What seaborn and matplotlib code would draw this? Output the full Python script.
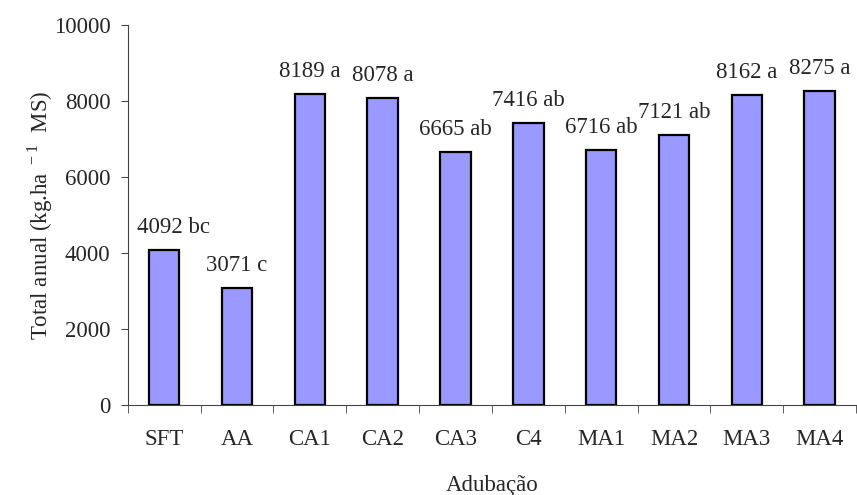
import numpy as np
import pandas as pd
import matplotlib
matplotlib.use('Agg')
import matplotlib.pyplot as plt
import seaborn as sns

categorias = ['SFT', 'AA', 'CA1', 'CA2', 'CA3', 'C4', 'MA1', 'MA2', 'MA3', 'MA4']
total_anual = [4092, 3071, 8189, 8078, 6665, 7416, 6716, 7121, 8162, 8275]
letras = ['bc', 'c', 'a', 'a', 'ab', 'ab', 'ab', 'ab', 'a', 'a']

df = pd.DataFrame({'Adubacao': categorias, 'Total': total_anual})

sns.set_style('ticks')
plt.rcParams['font.family'] = ['Liberation Serif', 'DejaVu Serif']
plt.rcParams['mathtext.fontset'] = 'custom'
plt.rcParams['mathtext.rm'] = 'Liberation Serif'

fs = 16.5
fig = plt.figure(figsize=(8.57, 4.95), dpi=100)
ax = fig.add_axes([0.149, 0.182, 0.85, 0.767])

sns.barplot(data=df, x='Adubacao', y='Total', color='#9999FF', saturation=1,
            edgecolor='black', linewidth=1.6, width=0.42, ax=ax)

# rótulos de valor + letras (o primeiro está deslocado à direita no original)
for i, (v, l) in enumerate(zip(total_anual, letras)):
    dx = 6.5 if i == 0 else 0
    ax.annotate(f'{v} {l}', xy=(i, v), xytext=(dx, 12.2), textcoords='offset points',
                ha='center', va='baseline', fontsize=fs)

ax.set_xlim(-0.5, len(categorias) - 0.5)
ax.set_ylim(0, 10000)
ax.set_yticks(np.arange(0, 10001, 2000))
ax.set_xticks(np.arange(-0.5, len(categorias), 1), minor=True)
ax.tick_params(axis='x', which='major', length=0, pad=17, labelsize=fs)
ax.tick_params(axis='x', which='minor', length=5.5, color='#444444')
ax.tick_params(axis='y', length=5, pad=7.5, color='#444444', labelsize=fs)
ax.set_xlabel('Adubação', fontsize=fs, labelpad=18)
ax.set_ylabel('Total anual (kg.ha$^{\\ -1}$  MS)', fontsize=fs)
ax.yaxis.set_label_coords(-0.1, 0.5)

for s in ['top', 'right']:
    ax.spines[s].set_visible(False)
for s in ['left', 'bottom']:
    ax.spines[s].set_color('#444444')

fig.savefig('out.png', dpi=100)
